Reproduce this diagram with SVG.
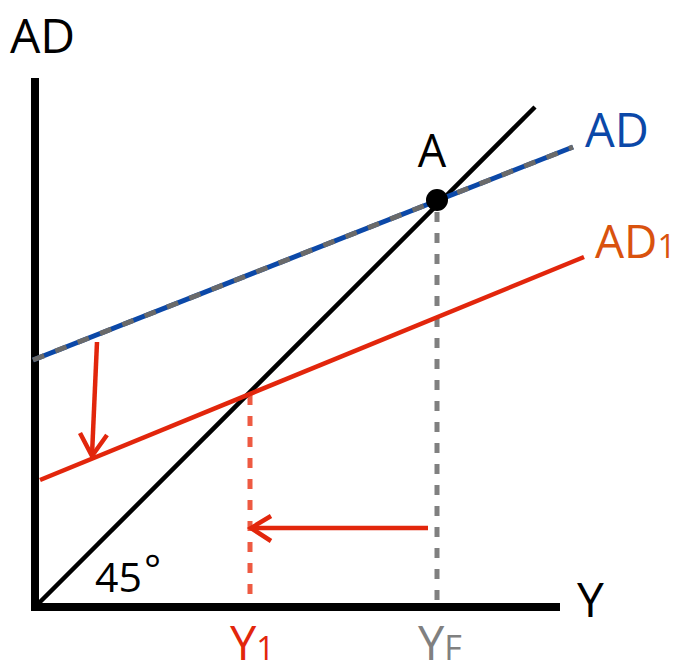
<svg xmlns="http://www.w3.org/2000/svg" width="682" height="662" viewBox="0 0 682 662">
<style>
  text { font-family: "Open Sans", "Liberation Sans", sans-serif; }
  .axis { stroke: #000; stroke-width: 8; fill: none; }
  .red { stroke: #e2260c; stroke-width: 4.5; fill: none; stroke-linecap: butt; }
  .arrowhead { stroke: #e2260c; stroke-width: 4.5; fill: none; stroke-linejoin: miter; }
</style>
<rect width="682" height="662" fill="#fff"/>
<g id="axes">
  <line class="axis" x1="35" y1="78" x2="35" y2="611"/>
  <line class="axis" x1="31" y1="607" x2="560" y2="607"/>
</g>
<g id="connectors">
  <line x1="437" y1="212" x2="437" y2="604" stroke="#808080" stroke-width="5" stroke-dasharray="10,11"/>
  <line x1="250" y1="395" x2="250" y2="604" stroke="#ee5a42" stroke-width="5" stroke-dasharray="10,11"/>
  <line id="line45" x1="37" y1="605" x2="535" y2="107" stroke="#000" stroke-width="4.5"/>
  <g id="ad-line">
    <line x1="33" y1="360" x2="573" y2="147" stroke="#0b48a8" stroke-width="5"/>
    <line x1="33" y1="360" x2="573" y2="147" stroke="#6a6a6a" stroke-width="5" stroke-dasharray="12,12"/>
  </g>
  <line id="ad1-line" class="red" x1="40" y1="480" x2="584" y2="257"/>
  <g id="shift-down">
    <line class="red" x1="97" y1="342" x2="92" y2="455"/>
    <polyline class="arrowhead" points="80,433 92,456 107,435"/>
  </g>
  <g id="shift-left">
    <line class="red" x1="428" y1="528" x2="252" y2="528"/>
    <polyline class="arrowhead" points="271,516 251,528 271,541"/>
  </g>
</g>
<g id="pointA">
  <circle cx="437" cy="200" r="11" fill="#000"/>
  <text x="432" y="167" font-size="45" text-anchor="middle" fill="#000">A</text>
</g>
<g id="labels">
  <text x="10" y="53" font-size="48" fill="#000">AD</text>
  <text x="585" y="147" font-size="47" fill="#0b48a8">AD</text>
  <text x="595" y="258" font-size="46" fill="#d9520e">AD<tspan font-size="32">1</tspan></text>
  <text x="577" y="617" font-size="48" fill="#000">Y</text>
  <text x="95" y="592" font-size="41" fill="#000">45<tspan font-size="40" dx="2" dy="-8">°</tspan></text>
  <text x="230" y="660" font-size="47" fill="#e2260c">Y<tspan font-size="32">1</tspan></text>
  <text x="418" y="660" font-size="47" fill="#808080">Y<tspan font-size="34">F</tspan></text>
</g>
</svg>
